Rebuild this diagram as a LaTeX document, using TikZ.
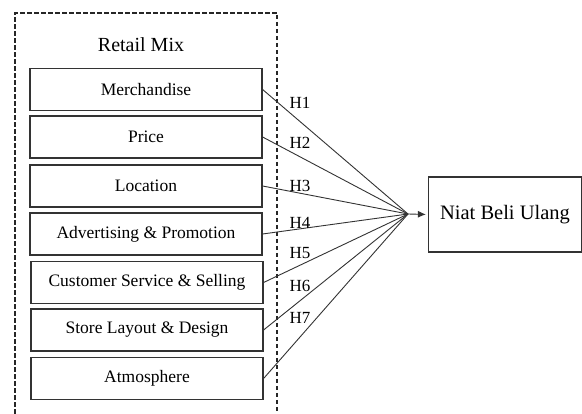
\documentclass[tikz,border=0pt]{standalone}
\usepackage{fontspec}
\setmainfont{Liberation Serif}
\usetikzlibrary{arrows.meta}
\begin{document}
\begin{tikzpicture}[x=1pt,y=-1pt,
  dimbox/.style={draw=black!80,line width=1.2pt,minimum width=232pt,minimum height=42pt,
    inner sep=0pt,font=\fontsize{17.5}{20}\selectfont},
  link/.style={draw=black!80,line width=0.9pt},
  hlabel/.style={font=\fontsize{17}{19}\selectfont,inner sep=0pt},
  group/.style={draw=black!85,line width=1.3pt,dash pattern=on 4.5pt off 2.5pt}]
\useasboundingbox (0,0) rectangle (582,414);
% dashed frame around the retail-mix dimensions (open at the bottom)
\draw[group] (15,414) -- (15,13) -- (277,13) -- (277,414);
\node[font=\fontsize{20}{22}\selectfont] (title) at (141,45) {Retail Mix};
% the seven dimensions
\node[dimbox] (m1) at (146,89.5) {Merchandise};
\node[dimbox] (m2) at (146,137) {Price};
\node[dimbox] (m3) at (146,186) {Location};
\node[dimbox] (m4) at (146,234) {Advertising \& Promotion};
\node[dimbox] (m5) at (147,282.5) {Customer Service \& Selling};
\node[dimbox] (m6) at (147,330) {Store Layout \& Design};
\node[dimbox] (m7) at (147,378.5) {Atmosphere};
% dependent variable
\node[draw=black!80,line width=1.2pt,minimum width=153pt,minimum height=75pt,inner sep=0pt,
  font=\fontsize{20.5}{22}\selectfont] (y) at (505,214.5) {Niat Beli Ulang};
% meeting point of the hypothesis paths
\coordinate (hub) at (408,214);
\foreach \i in {1,...,7} {\draw[link] (m\i.east) -- (hub);}
\draw[link,-{Latex[length=8pt,width=7pt]},shorten >=2pt] (hub) -- (y.west);
% hypothesis labels
\node[hlabel] (h1) at (300,103) {H1};
\node[hlabel] (h2) at (300,143) {H2};
\node[hlabel] (h3) at (300,186) {H3};
\node[hlabel] (h4) at (300,223) {H4};
\node[hlabel] (h5) at (300,253) {H5};
\node[hlabel] (h6) at (300,286) {H6};
\node[hlabel] (h7) at (300,318) {H7};
\end{tikzpicture}
\end{document}
